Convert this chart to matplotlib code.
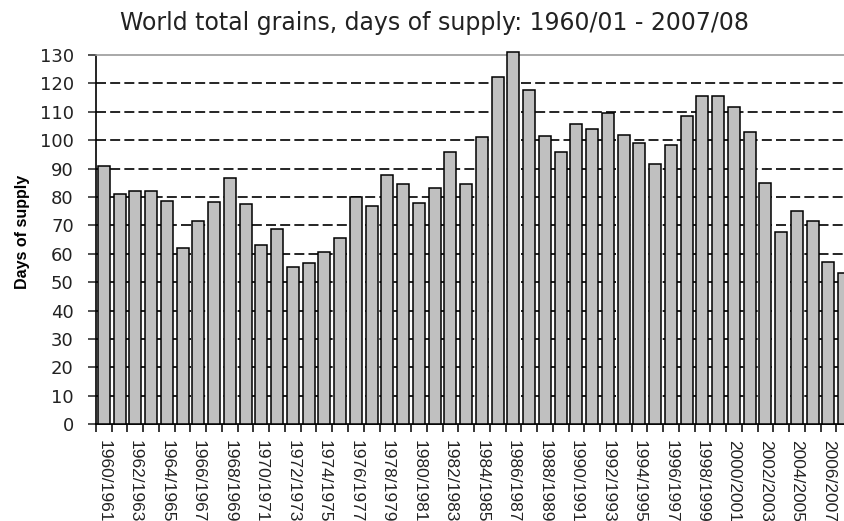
import numpy as np
import matplotlib.pyplot as plt

# Dados
seasons = [f"{y}/{y + 1}" for y in range(1960, 2008)]
days = [91, 81, 82, 82, 78.6, 62, 71.5, 78.2, 86.8, 77.4,
        63.2, 68.6, 55.5, 56.7, 60.7, 65.6, 80, 77, 87.8, 84.5,
        78, 83.1, 96, 84.5, 101.1, 122.2, 131, 117.7, 101.5, 95.8,
        105.8, 104.1, 109.7, 101.9, 98.9, 91.8, 98.3, 108.4, 115.5, 115.5,
        111.6, 102.8, 84.9, 67.6, 75.1, 71.6, 57, 53.2]
yticks = list(range(0, 131, 10))

plt.rcParams['font.family'] = ['Liberation Sans', 'DejaVu Sans']

fig = plt.figure(figsize=(8.45, 5.21), dpi=100)
ax = fig.add_axes([0.1136, 0.1856, 0.8947, 0.7088])

x = np.arange(len(days))
bars = ax.bar(x, days, width=0.76, color='#C0C0C0', edgecolor='black',
              linewidth=1.1, zorder=3)
for b in bars:
    b.set_clip_on(False)

# Grade tracejada
for v in yticks[1:-1]:
    ax.axhline(v, color='black', lw=1.2, dashes=(6, 2.5), zorder=1)

ax.set_xlim(-0.5, len(days) - 0.5)
ax.set_ylim(0, 130)
ax.set_yticks(yticks)
ax.set_yticklabels([str(v) for v in yticks], family='DejaVu Sans', fontsize=13)
ax.tick_params(axis='y', length=6, width=1.1, pad=10, colors='#222222')

# Rótulos a cada dois anos, marcas entre as barras
ax.set_xticks(x[::2])
ax.set_xticklabels(seasons[::2], rotation=-90, fontsize=12.5, color='#222222')
ax.tick_params(axis='x', which='major', length=0, pad=11)
ax.set_xticks(np.arange(-0.5, len(days), 1), minor=True)
ax.tick_params(axis='x', which='minor', length=6, width=1.1)

ax.spines['top'].set_color('#999999')
ax.spines['top'].set_linewidth(1.2)
ax.spines['right'].set_visible(False)
ax.spines['left'].set_linewidth(1.2)
ax.spines['bottom'].set_linewidth(1.2)

fig.text(0.514, 0.956, "World total grains, days of supply: 1960/01 - 2007/08",
         ha='center', va='center', fontsize=17, family='DejaVu Sans',
         color='#222222')
fig.text(0.027, 0.555, "Days of supply", rotation=90, ha='center', va='center',
         fontsize=11.5, fontweight='bold')

fig.savefig('out.png', dpi=100)
